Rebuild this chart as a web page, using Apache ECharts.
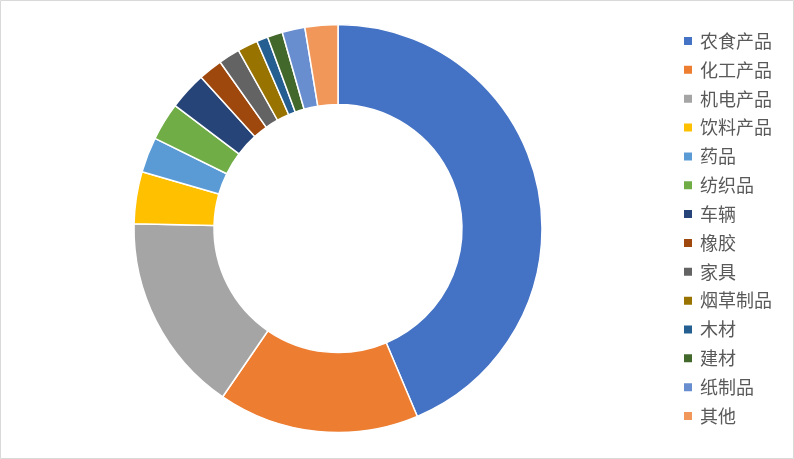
<!DOCTYPE html>
<html>
<head>
<meta charset="utf-8">
<script src="https://cdn.jsdelivr.net/npm/echarts@6/dist/echarts.min.js"></script>
<style>
html,body{margin:0;padding:0;background:#fff;}
#c{width:794px;height:459px;}
</style>
</head>
<body>
<div id="c"></div>
<script>
const categories = ['农食产品','化工产品','机电产品','饮料产品','药品','纺织品','车辆','橡胶','家具','烟草制品','木材','建材','纸制品','其他'];
const values = [43.6,15.9,15.8,4.1,2.8,3.0,3.0,1.9,1.7,1.6,0.9,1.2,1.8,2.6];
const colors = ['#4472C4','#ED7D31','#A5A5A5','#FFC000','#5B9BD5','#70AD47','#264478','#9E480E','#636363','#997300','#255E91','#43682B','#698ED0','#F1975A'];

const chart = echarts.init(document.getElementById('c'), null, {renderer:'canvas'});
chart.setOption({
  animation:false,
  color: colors,
  graphic:[{type:'rect',shape:{x:0.5,y:0.5,width:793,height:458},style:{fill:'none',stroke:'#D9D9D9',lineWidth:1},silent:true}],
  legend:{
    orient:'vertical',
    left:677, top:27,
    icon:'rect', itemWidth:10, itemHeight:10,
    itemGap:10.85,
    textStyle:{fontFamily:'Noto Sans CJK SC',fontSize:18,color:'#595959',lineHeight:18,padding:[0,0,0,2]},
    data: categories
  },
  series:[{
    type:'pie',
    center:[338,228.5],
    radius:[124,204],
    startAngle:90,
    clockwise:true,
    label:{show:false},
    labelLine:{show:false},
    emphasis:{disabled:true},
    itemStyle:{borderColor:'#fff',borderWidth:1.5},
    data: categories.map((n,i)=>({name:n,value:values[i]}))
  }]
});
</script>
</body>
</html>
